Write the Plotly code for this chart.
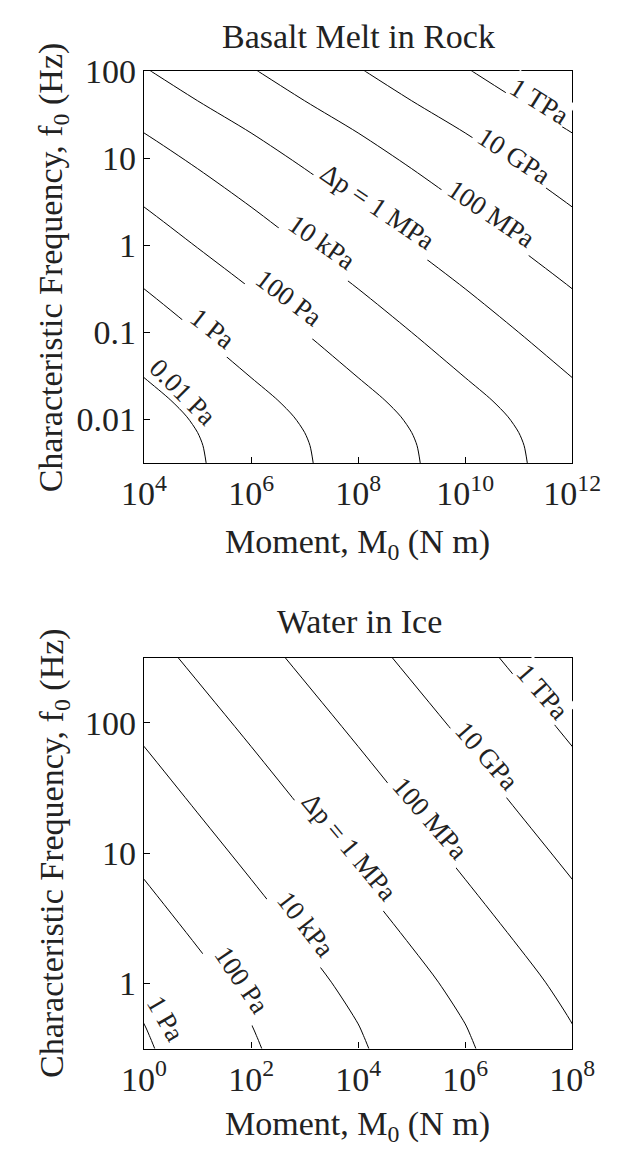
import plotly.graph_objects as go

# ---------------- data (log10 values) ----------------
# Top panel: Basalt melt in rock.  x = log10 M0 (N m), y = log10 f0 (Hz)
top_labels = ["0.01 Pa", "1 Pa", "100 Pa", "10 kPa", "Δp = 1 MPa", "100 MPa", "10 GPa", "1 TPa"]
top_x = [
    [3.0, 4.0, 4.5, 4.8, 5.0, 5.1, 5.16],
    [3.0, 4.0, 5.0, 6.0, 6.5, 6.8, 7.0, 7.1, 7.16],
    [3.0, 4.0, 5.0, 6.0, 7.0, 8.0, 8.5, 8.8, 9.0, 9.1, 9.16],
    [3.0, 4.0, 5.0, 6.0, 7.0, 8.0, 9.0, 10.0, 10.5, 10.8, 11.0, 11.1, 11.16],
    [3.8, 5.0, 6.0, 7.0, 8.0, 9.0, 10.0, 11.0, 12.0, 12.5],
    [5.8, 7.0, 8.0, 9.0, 10.0, 11.0, 12.0, 13.0],
    [7.8, 9.0, 10.0, 11.0, 12.0, 13.0],
    [9.8, 11.0, 12.0, 13.0],
]
top_y = [
    [-1.00, -1.52, -1.78, -1.97, -2.15, -2.30, -2.50],
    [-0.03, -0.50, -1.00, -1.52, -1.78, -1.97, -2.15, -2.30, -2.50],
    [0.88, 0.44, -0.03, -0.50, -1.00, -1.52, -1.78, -1.97, -2.15, -2.30, -2.50],
    [1.66, 1.29, 0.88, 0.44, -0.03, -0.50, -1.00, -1.52, -1.78, -1.97, -2.15, -2.30, -2.50],
    [2.13, 1.66, 1.29, 0.88, 0.44, -0.03, -0.50, -1.00, -1.52, -1.78],
    [2.13, 1.66, 1.29, 0.88, 0.44, -0.03, -0.50, -1.00],
    [2.13, 1.66, 1.29, 0.88, 0.44, -0.03],
    [2.13, 1.66, 1.29, 0.88],
]
# contour label positions (log10 M0, log10 f0), rotation and white padding
top_lab_x = [4.72, 5.27, 6.71, 7.32, 8.37, 10.49, 10.92, 11.38]
top_lab_y = [-1.69, -0.95, -0.60, 0.04, 0.44, 0.36, 1.03, 1.66]
top_lab_ang = [45, 38, 37, 35, 34, 34, 33, 32]
top_lab_pad = [0, 5, 6, 6, 5, 5, 4, 1]

# Bottom panel: Water in ice
bot_labels = ["1 Pa", "100 Pa", "10 kPa", "Δp = 1 MPa", "100 MPa", "10 GPa", "1 TPa"]
bot_x = [
    [-1.0, -0.5, 0.0, 0.1, 0.2],
    [-1.0, 0.0, 1.0, 1.5, 2.0, 2.1, 2.2],
    [-1.36, 0.0, 1.0, 2.0, 3.0, 3.5, 4.0, 4.1, 4.2],
    [-0.5, 0.64, 2.0, 3.0, 4.0, 5.0, 5.5, 6.0, 6.1, 6.2],
    [1.5, 2.64, 4.0, 5.0, 6.0, 7.0, 7.5, 8.0, 8.1],
    [3.5, 4.64, 6.0, 7.0, 8.0, 9.0],
    [5.5, 6.64, 8.0, 9.0],
]
bot_y = [
    [0.28, 0.01, -0.31, -0.40, -0.50],
    [1.31, 0.80, 0.28, 0.01, -0.31, -0.40, -0.50],
    [2.50, 1.82, 1.31, 0.80, 0.28, 0.01, -0.31, -0.40, -0.50],
    [3.07, 2.50, 1.82, 1.31, 0.80, 0.28, 0.01, -0.31, -0.40, -0.50],
    [3.07, 2.50, 1.82, 1.31, 0.80, 0.28, 0.01, -0.31, -0.40],
    [3.07, 2.50, 1.82, 1.31, 0.80, 0.28],
    [3.07, 2.50, 1.82, 1.31],
]
bot_lab_x = [0.41, 1.83, 3.02, 3.84, 5.34, 6.41, 7.45]
bot_lab_y = [-0.27, 0.03, 0.46, 1.05, 1.27, 1.75, 2.24]
bot_lab_ang = [60, 56, 52, 50, 49, 49, 49]
bot_lab_pad = [0, 6, 6, 5, 5, 4, 1]

top_xticks = [4, 6, 8, 10, 12]
top_yticks = [-2, -1, 0, 1, 2]
top_yticktext = ["0.01", "0.1", "1", "10", "100"]
bot_xticks = [0, 2, 4, 6, 8]
bot_yticks = [0, 1, 2]
bot_yticktext = ["1", "10", "100"]

# ---------------- figure ----------------
W, H = 626, 1152
FONT = "Liberation Serif"
TXT = "#222222"

fig = go.Figure()

def add_curves(xs, ys, xa, ya):
    for cx, cy in zip(xs, ys):
        fig.add_trace(go.Scatter(
            x=[10 ** v for v in cx], y=[10 ** v for v in cy],
            mode="lines", line=dict(color="black", width=1, shape="spline", smoothing=0.8),
            xaxis=xa, yaxis=ya, showlegend=False, hoverinfo="skip"))

add_curves(top_x, top_y, "x", "y")
add_curves(bot_x, bot_y, "x2", "y2")

def px_x(p):
    return p / W

def px_y(p):
    return 1 - p / H

axis_common = dict(
    type="log", showline=True, linecolor="black", linewidth=1.3, mirror=True,
    ticks="inside", ticklen=6, tickwidth=1, tickcolor="black",
    showgrid=False, zeroline=False,
    tickfont=dict(family=FONT, size=34, color=TXT),
)

fig.update_layout(
    width=W, height=H, margin=dict(l=0, r=0, t=0, b=0),
    paper_bgcolor="white", plot_bgcolor="white",
    xaxis=dict(axis_common, domain=[px_x(132), px_x(599)], anchor="y",
               range=[4, 12], tickvals=[10 ** v for v in top_xticks],
               ticktext=["10<sup>%d</sup>" % v for v in top_xticks]),
    yaxis=dict(axis_common, domain=[px_y(452), px_y(54)], anchor="x",
               range=[-2.5, 2], tickvals=[10 ** v for v in top_yticks],
               ticktext=top_yticktext),
    xaxis2=dict(axis_common, domain=[px_x(132), px_x(599)], anchor="y2",
                range=[0, 8], tickvals=[10 ** v for v in bot_xticks],
                ticktext=["10<sup>%d</sup>" % v for v in bot_xticks]),
    yaxis2=dict(axis_common, domain=[px_y(1047), px_y(650)], anchor="x2",
                range=[-0.5, 2.5], tickvals=[10 ** v for v in bot_yticks],
                ticktext=bot_yticktext),
)

ann = []
for t, x, y, a, p in zip(top_labels, top_lab_x, top_lab_y, top_lab_ang, top_lab_pad):
    ann.append(dict(text=t, x=x, y=y, xref="x", yref="y", showarrow=False,
                    textangle=a, bgcolor="white" if p else "rgba(0,0,0,0)", borderpad=p,
                    font=dict(family=FONT, size=27, color=TXT)))
for t, x, y, a, p in zip(bot_labels, bot_lab_x, bot_lab_y, bot_lab_ang, bot_lab_pad):
    ann.append(dict(text=t, x=x, y=y, xref="x2", yref="y2", showarrow=False,
                    textangle=a, bgcolor="white" if p else "rgba(0,0,0,0)", borderpad=p,
                    font=dict(family=FONT, size=27, color=TXT)))

def label(text, x, y, size=34, angle=0):
    ann.append(dict(text=text, x=px_x(x), y=px_y(y), xref="paper", yref="paper",
                    showarrow=False, textangle=angle, xanchor="center", yanchor="middle",
                    font=dict(family=FONT, size=size, color=TXT)))

label("Basalt Melt in Rock", 366, 19)
label("Water in Ice", 367, 613)
label("Moment, M<sub>0</sub> (N m)", 365, 534)
label("Moment, M<sub>0</sub> (N m)", 365, 1126)
label("Characteristic Frequency, f<sub>0</sub> (Hz)", 33, 253, angle=-90)
label("Characteristic Frequency, f<sub>0</sub> (Hz)", 33, 848, angle=-90)

fig.update_layout(annotations=ann)
fig.write_html("out.html")
